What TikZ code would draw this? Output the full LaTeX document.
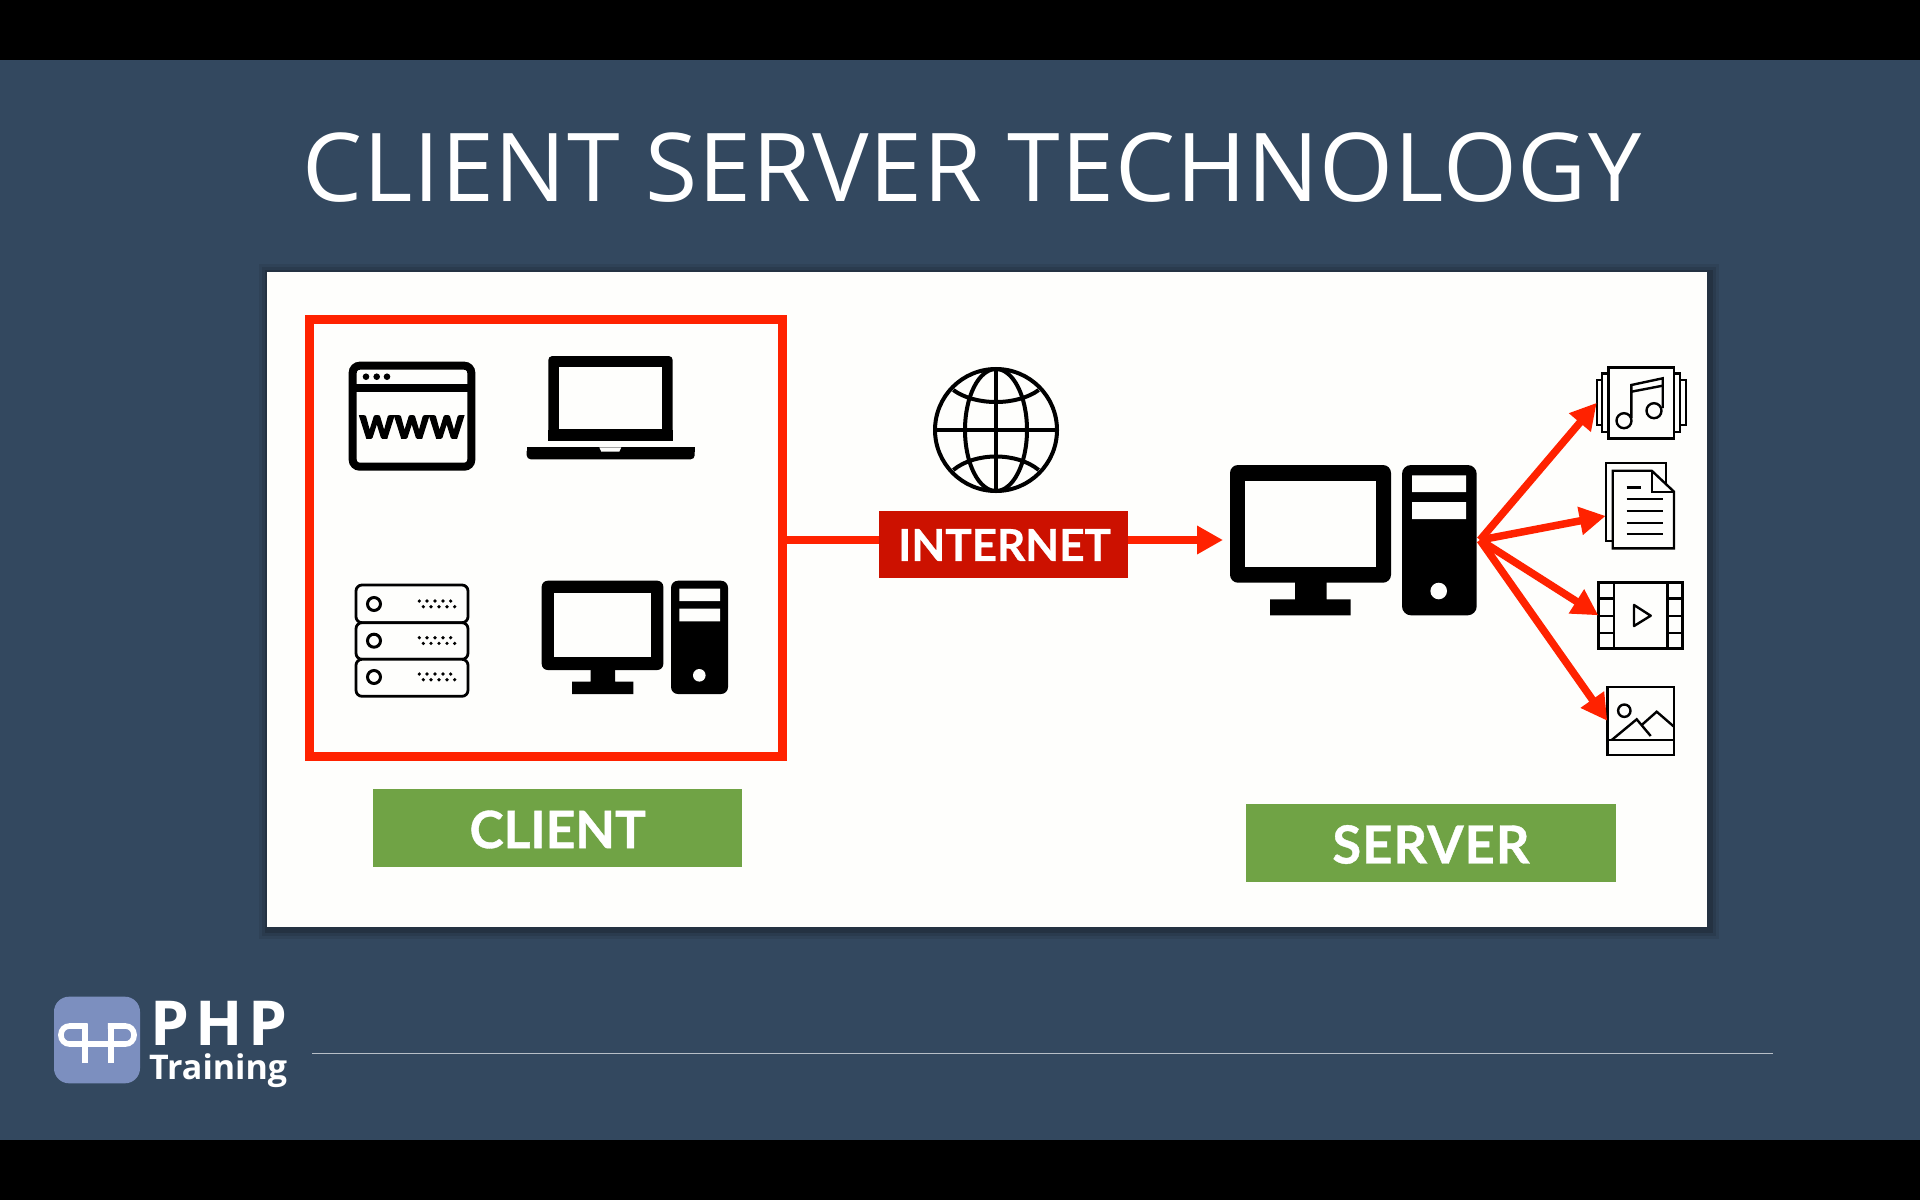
\documentclass[tikz,border=0pt]{standalone}
\usepackage{fontspec}
\setmainfont{Lato}
\newfontfamily\titlefont[LetterSpace=1]{Open Sans}
\newfontfamily\labfont[UprightFont={* Bold},FakeBold=0.7]{Lato}
\newfontfamily\wwwfont[UprightFont={* Bold},FakeBold=3]{Lato}
\newfontfamily\logofont[UprightFont={* Bold}]{Open Sans}
\usetikzlibrary{arrows.meta}
\definecolor{slatebg}{HTML}{33485F}
\definecolor{redline}{HTML}{FF2200}
\definecolor{redbox}{HTML}{CC1100}
\definecolor{greenbox}{HTML}{70A345}
\definecolor{logoblue}{HTML}{7C8FBF}
\definecolor{paper}{HTML}{FEFEFC}
\tikzset{
  blk/.style={fill=black,draw=none},
  wht/.style={fill=paper,draw=none},
  thin icon/.style={draw=black,line width=2.4pt,fill=paper},
  thin line/.style={draw=black,line width=2.4pt},
  conn/.style={draw=redline,line width=7.5pt,-{Triangle[length=26pt,width=27pt]}},
  fan/.style={draw=redline,line width=7.5pt,-{Triangle[length=26pt,width=27pt]}},
  lab/.style={text=white,inner sep=0pt,outer sep=0pt},
  holder/.style={draw=none,fill=none,inner sep=0pt,outer sep=0pt},
}
\begin{document}
\begin{tikzpicture}[x=1pt,y=-1pt]
\useasboundingbox (0,0) rectangle (1920,1200);
\fill[black] (0,0) rectangle (1920,1200);
\fill[slatebg] (0,60) rectangle (1920,1140);
% title
\node[anchor=base,text=white,inner sep=0pt,font=\titlefont\fontsize{95}{95}\selectfont] (title) at (972,201.7) {CLIENT SERVER TECHNOLOGY};
% panel
\foreach \d/\o in {10/.08,7/.10,4/.14}{\fill[black,opacity=\o] (267-\d+2,272-\d+2) rectangle (1707+\d+2,927+\d+2);}
\node[fill=paper,draw=none,minimum width=1440pt,minimum height=655pt,inner sep=0pt] (panel) at (987,599.5) {};
% client box
\node[draw=redline,line width=8.6pt,minimum width=473pt,minimum height=437pt,inner sep=0pt,outer sep=0pt] (clientbox) at (546,538) {};
\coordinate (hub) at (1480,540);
% browser icon
\node[holder,minimum width=126.6pt,minimum height=109pt] (browser) at (412,416.2) {};
\draw[black,line width=8pt,rounded corners=7pt] (352.7,365.7) rectangle (471.3,466.7);
\draw[black,line width=8pt] (352.7,387.5) -- (471.3,387.5);
\foreach \x in {366,376.7,387}{\fill[black] (\x,376.7) circle (3.3);}
\node[inner sep=0pt,font=\wwwfont\fontsize{43.5}{44}\selectfont,text=black] (www) at (411.7,427) {www};
% laptop
\node[holder,minimum width=168pt,minimum height=103pt] (laptop) at (610.7,407.6) {};
\fill[black,rounded corners=4pt] (548.3,440.7) -- (548.3,356) -- (672.7,356) -- (672.7,440.7) -- cycle;
\fill[black] (548.3,430) rectangle (672.7,440.7);
\fill[wht] (559.3,367.3) rectangle (662,429.3);
\fill[black,rounded corners=4pt] (526.7,447.3) -- (694.7,447.3) -- (694.7,459.3) -- (526.7,459.3) -- cycle;
\fill[black] (526.7,447.3) rectangle (694.7,452);
\fill[wht] (599.3,447.3) -- (621.3,447.3) -- (619.3,451.7) -- (601.3,451.7) -- cycle;
% rack
\node[holder,minimum width=115pt,minimum height=113pt] (rack) at (411.8,640.6) {};
\foreach \a/\b/\c in {585/622.7/604,622.7/659.3/640.7,659.3/696.3/677}{
  \draw[thin icon,line width=2.8pt,rounded corners=6pt] (356,\a) rectangle (468,\b);
  \draw[black,line width=3pt] (374,\c) circle (6.5);
  \foreach \x in {419.3,427,435,443,450.7}{\fill[black] (\x,\c-3) circle (1.8);}
  \foreach \x in {423.3,431,439,447,454.7}{\fill[black] (\x,\c+2.7) circle (1.8);}
}
% small desktop
\node[blk,rounded corners=6pt,minimum width=121.6pt,minimum height=89.3pt,inner sep=0pt] (pcmon) at (602.5,625.35) {};
\fill[wht] (554,592.7) rectangle (651.3,657.3);
\fill[black] (590.7,669) rectangle (615,682) (572,681.7) rectangle (633.3,694);
\node[blk,rounded corners=7pt,minimum width=57pt,minimum height=113.3pt,inner sep=0pt] (pctower) at (699.5,637.35) {};
\fill[wht] (679.3,588.7) rectangle (720,601) (679.3,608.7) rectangle (720,621.3);
\fill[paper] (699.3,675.3) circle (6.3);
% globe
\node[holder,minimum size=124pt,circle] (globe) at (996,430) {};
\begin{scope}[black,line width=4pt]
\draw (996,430) circle (61);
\draw (996,430) ellipse (31 and 61);
\draw (996,369) -- (996,491);
\draw (935,430) -- (1057,430);
\draw (953.3,390) .. controls (975,406) and (1017,406) .. (1038.7,390);
\draw (953.3,470) .. controls (975,452) and (1017,452) .. (1038.7,470);
\end{scope}
% internet
\node[fill=redbox,minimum width=249pt,minimum height=67.6pt,inner sep=0pt,outer sep=0pt] (inet) at (1003.8,544.5) {};
\node[lab,font=\labfont\fontsize{44}{44}\selectfont] (inettext) at (1004.6,545) {INTERNET};
% large desktop
\node[blk,rounded corners=8pt,minimum width=161pt,minimum height=117.7pt,inner sep=0pt,outer sep=0pt] (srvmon) at (1310.5,523.85) {};
\fill[wht] (1245.3,480.7) rectangle (1375.7,566.7);
\fill[black] (1295,581) rectangle (1326.7,600) (1270,599.3) rectangle (1350.7,615.3);
\node[blk,rounded corners=9pt,minimum width=74.7pt,minimum height=150.3pt,inner sep=0pt] (srvtower) at (1439.35,540.15) {};
\fill[wht] (1412,475.3) rectangle (1466,492) (1412,502) rectangle (1466,519);
\fill[paper] (1438.7,591) circle (8.3);
% music
\node[holder,minimum width=89pt,minimum height=71pt] (music) at (1641.2,402.8) {};
\draw[thin line] (1596.7,380) rectangle (1601.7,425);
\draw[thin line] (1601.7,373.3) rectangle (1608.3,431.7);
\draw[thin line] (1680,380) rectangle (1685.7,425);
\draw[thin line] (1674,373.3) rectangle (1680,431.7);
\draw[thin icon] (1608.3,367.3) rectangle (1674,438.3);
\draw[thin line] (1624,420.7) circle (7.5) (1654,410.7) circle (7.5);
\draw[thin line] (1631.3,418) -- (1631.3,385) -- (1662.7,378.3) -- (1662.7,408);
\draw[thin line] (1631.3,391.7) -- (1662.7,385.7);
% document
\node[holder,minimum width=68.3pt,minimum height=85.6pt] (doc) at (1639.8,505.5) {};
\draw[thin icon] (1605.7,462.7) rectangle (1666,540.7);
\draw[thin icon] (1612.7,470.7) -- (1651.7,470.7) -- (1674,491.7) -- (1674,548.3) -- (1612.7,548.3) -- cycle;
\draw[thin line] (1651.7,470.7) -- (1651.7,491.7) -- (1674,491.7);
\draw[thin line] (1626.7,487.3) -- (1640.7,487.3);
\foreach \y in {499,510.7,522.7,534}{\draw[thin line] (1626.7,\y) -- (1662.7,\y);}
% film
\node[holder,minimum width=84pt,minimum height=66pt] (film) at (1640.3,615.3) {};
\draw[thin icon] (1598.3,582.3) rectangle (1682.3,648.3);
\draw[thin line] (1614,582.3) -- (1614,648.3) (1667.3,582.3) -- (1667.3,648.3);
\foreach \y in {598.3,615.7,632.7}{\draw[thin line] (1598.3,\y) -- (1614,\y) (1667.3,\y) -- (1682.3,\y);}
\draw[thin line,line join=round] (1634,605) -- (1650.7,615.7) -- (1634,626) -- cycle;
% image
\node[holder,minimum width=66.7pt,minimum height=68.3pt] (img) at (1640.6,720.8) {};
\draw[thin icon] (1607.3,686.7) rectangle (1674,755);
\draw[thin line] (1607.3,740) -- (1674,740);
\draw[thin line] (1624.3,710.7) circle (6.2);
\draw[thin line] (1611.7,740) -- (1636.7,719.3) -- (1650.7,736);
\draw[thin line] (1641.7,725) -- (1656.7,711.7) -- (1674,726.7);
% connectors
\draw[redline,line width=7.5pt] (clientbox.east |- hub) -- (inet.west |- hub);
\draw[conn,shorten >=7pt] (inet.east |- hub) -- (srvmon.west |- hub);
\draw[fan] (hub) -- (music.west);
\draw[fan] (hub) -- (doc.197);
\draw[fan] (hub) -- (film.west);
\draw[fan] (hub) -- (img.west);
% labels
\node[fill=greenbox,minimum width=368.5pt,minimum height=78.4pt,inner sep=0pt] (clientlab) at (557.7,828) {};
\node[lab,font=\labfont\fontsize{51.5}{52}\selectfont] (clienttext) at (557.7,829.5) {CLIENT};
\node[fill=greenbox,minimum width=369.5pt,minimum height=77.1pt,inner sep=0pt] (serverlab) at (1431,843) {};
\node[lab,font=\labfont\fontsize{52.5}{53}\selectfont] (servertext) at (1431,844.5) {\addfontfeature{LetterSpace=2}SERVER};
% logo
\node[fill=logoblue,rounded corners=15pt,minimum width=86pt,minimum height=86.6pt,inner sep=0pt] (logo) at (97,1040) {};
\begin{scope}[white,line width=5.6pt,line cap=butt]
\draw (84.7,1063) -- (84.7,1024);
\draw (110.7,1063) -- (110.7,1024);
\draw[rounded corners=8.5pt] (87.5,1026) -- (61,1026) -- (61,1044) -- (113.5,1044);
\draw[rounded corners=8.5pt] (107.9,1026) -- (134,1026) -- (134,1044) -- (108,1044);
\end{scope}
\node[anchor=base west,text=white,inner sep=0pt,font=\logofont\fontsize{62}{62}\selectfont] (php) at (150,1045) {\addfontfeature{LetterSpace=10}PHP};
\node[anchor=base west,text=white,inner sep=0pt,font=\logofont\fontsize{34}{34}\selectfont] (training) at (149,1079.5) {Training};
\coordinate (ruleend) at (1773,1053);
\draw[white!65!slatebg,line width=1pt] (312,1053) -- (ruleend);
\end{tikzpicture}
\end{document}
